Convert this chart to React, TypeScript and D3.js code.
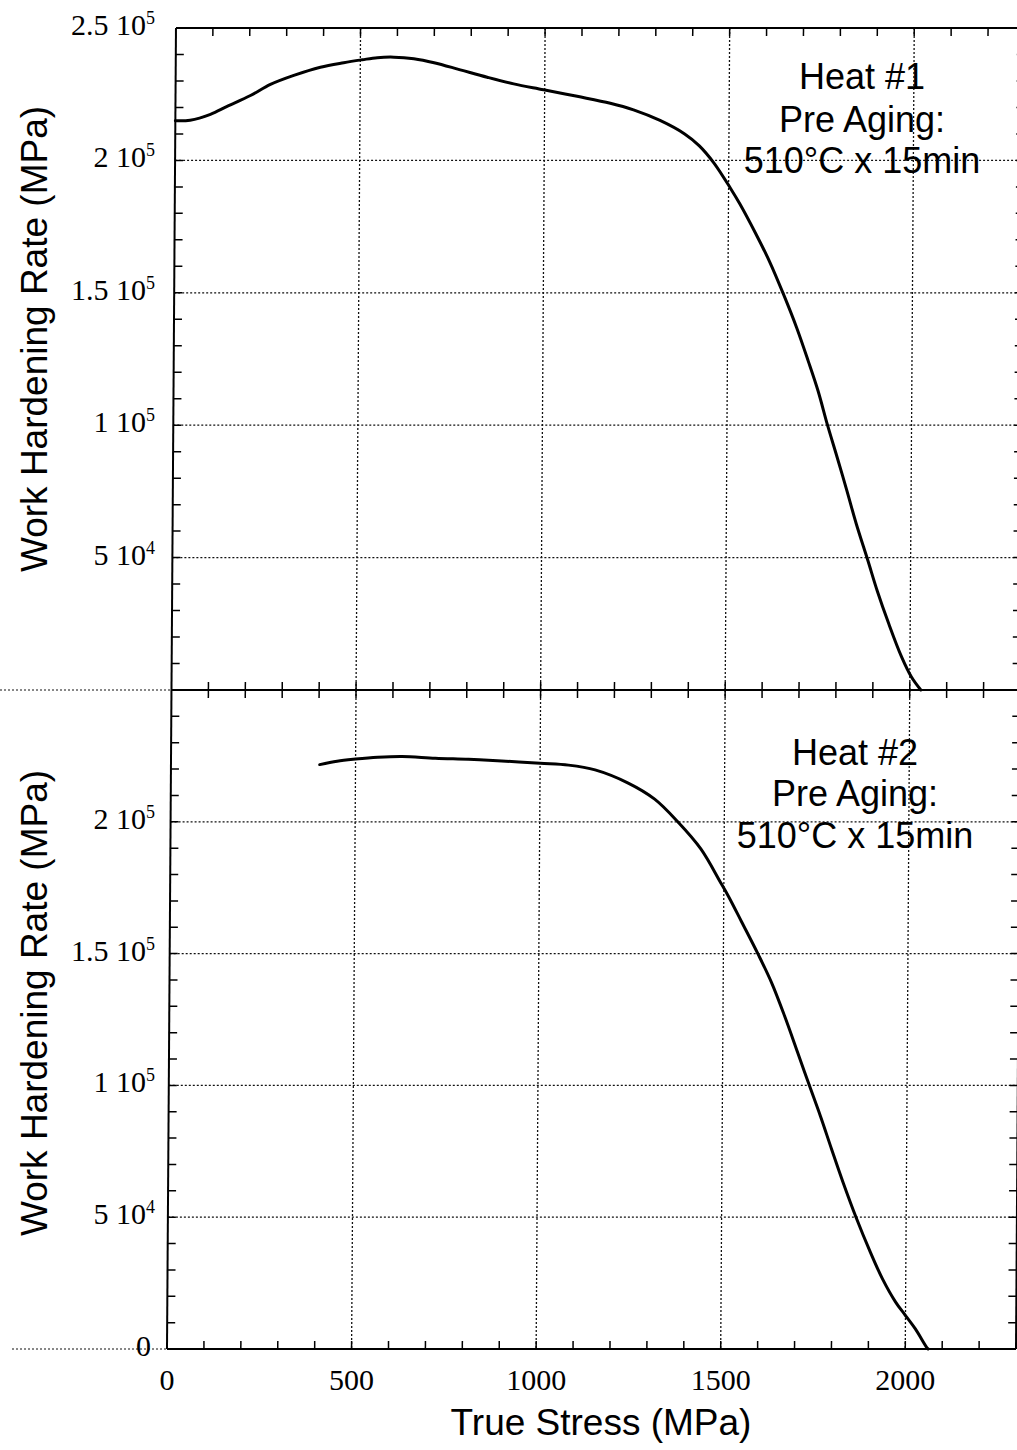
import React from "react";
import * as d3 from "d3";

// ---- data ----
const stressTicks = [0, 500, 1000, 1500, 2000];
const stressTickLabels = ["0", "500", "1000", "1500", "2000"];
const rateTicks = [0, 50000, 100000, 150000, 200000, 250000];
const rateTickBase = ["0", "5 10", "1 10", "1.5 10", "2 10", "2.5 10"];
const rateTickExp = ["", "4", "5", "5", "5", "5"];

const heat1Stress = [0, 40, 95, 140, 203, 257, 320, 392, 455, 505, 546, 591, 645, 700, 771, 844, 916, 997, 1088, 1178, 1241, 1313, 1380, 1420, 1460, 1505, 1531, 1576, 1612, 1652, 1687, 1719, 1746, 1772, 1799, 1826, 1852, 1884, 1910, 1942, 1977, 2004, 2030];
const heat1Rate = [215000, 215200, 217400, 220400, 224500, 228700, 232100, 235200, 236900, 238000, 238800, 239000, 238400, 236900, 234200, 231400, 228900, 226700, 224200, 221600, 219100, 215100, 210000, 205500, 199000, 189500, 183500, 171900, 161900, 149000, 136800, 124200, 113000, 100200, 87900, 75300, 62800, 49000, 37500, 25000, 12600, 5000, 0];

const heat2Stress = [403, 450, 500, 560, 626, 716, 806, 896, 1000, 1077, 1149, 1239, 1311, 1374, 1437, 1491, 1514, 1549, 1594, 1631, 1667, 1703, 1734, 1766, 1797, 1829, 1865, 1901, 1937, 1973, 2000, 2027, 2058, 2062];
const heat2Rate = [221700, 223000, 223800, 224500, 224800, 224100, 223700, 223100, 222200, 221500, 219700, 214700, 208600, 200000, 189700, 177000, 171400, 162000, 149800, 139000, 126300, 112500, 100500, 88300, 75700, 63000, 49700, 37600, 26600, 17800, 12700, 7600, 600, 0];

const panelTexts = [
  ["Heat #1", "Pre Aging:", "510\u00B0C x 15min"],
  ["Heat #2", "Pre Aging:", "510\u00B0C x 15min"],
];

const W = 1017;
const H = 1450;
const LEFT = 167;
const RIGHT = 1016;
const TOP = 28;
const MID = 690;
const BOTTOM = 1349;
const SKEW = -0.0068; // scan shear: verticals lean right toward the top

const SERIF = "'Liberation Serif', 'Times New Roman', serif";
const SANS = "'Liberation Sans', Arial, sans-serif";

export default function App() {
  const x = d3.scaleLinear().domain([0, 2300]).range([LEFT, RIGHT]);
  const yTop = d3.scaleLinear().domain([0, 250000]).range([MID, TOP]);
  const yBot = d3.scaleLinear().domain([0, 250000]).range([BOTTOM, MID]);

  const lineTop = d3
    .line<number>()
    .x((_, i) => x(heat1Stress[i]))
    .y((_, i) => yTop(heat1Rate[i]))
    .curve(d3.curveCatmullRom.alpha(0.5));
  const lineBot = d3
    .line<number>()
    .x((_, i) => x(heat2Stress[i]))
    .y((_, i) => yBot(heat2Rate[i]))
    .curve(d3.curveCatmullRom.alpha(0.5));

  const minorX = d3.range(100, 2300, 100);
  const minorY = d3.range(10000, 250000, 10000);
  const gridX = stressTicks.filter((v) => v > 0);
  const gridY = rateTicks.filter((v) => v > 0 && v < 250000);

  const panels = [
    { y: yTop, top: TOP, bottom: MID },
    { y: yBot, top: MID, bottom: BOTTOM },
  ];

  const dot = { stroke: "#111", strokeWidth: 1.3, strokeDasharray: "2,2", fill: "none" };

  return (
    <svg
      width={W}
      height={H}
      viewBox={`0 0 ${W} ${H}`}
      style={{ position: "absolute", left: 0, top: 0, background: "#fff" }}
    >
      <rect x={0} y={0} width={W} height={H} fill="#fff" />
      {/* stray dotted leaders at the left */}
      <line x1={0} x2={LEFT + 3} y1={MID} y2={MID} {...dot} strokeWidth={1} />
      <line x1={12} x2={LEFT} y1={BOTTOM} y2={BOTTOM} {...dot} strokeWidth={1} />

      <g transform={`matrix(1,0,${SKEW},1,${-SKEW * BOTTOM},0)`}>
        {panels.map((p, pi) => (
          <g key={pi}>
            {gridX.map((v) => (
              <line key={"gx" + v} x1={x(v)} x2={x(v)} y1={p.top} y2={p.bottom} {...dot} />
            ))}
            {gridY.map((v) => (
              <line key={"gy" + v} x1={LEFT} x2={RIGHT} y1={p.y(v)} y2={p.y(v)} {...dot} />
            ))}
            {minorY.map((v) => (
              <g key={"ty" + v}>
                <line x1={LEFT} x2={LEFT + 8} y1={p.y(v)} y2={p.y(v)} stroke="#000" strokeWidth={1.5} />
                <line x1={RIGHT - 8} x2={RIGHT} y1={p.y(v)} y2={p.y(v)} stroke="#000" strokeWidth={1.5} />
              </g>
            ))}
          </g>
        ))}
        {minorX.map((v) => (
          <g key={"tx" + v}>
            <line x1={x(v)} x2={x(v)} y1={TOP} y2={TOP + 8} stroke="#000" strokeWidth={1.5} />
            <line x1={x(v)} x2={x(v)} y1={MID - 8} y2={MID + 8} stroke="#000" strokeWidth={1.5} />
            <line x1={x(v)} x2={x(v)} y1={BOTTOM - 8} y2={BOTTOM} stroke="#000" strokeWidth={1.5} />
          </g>
        ))}
        {/* frame */}
        <line x1={LEFT} x2={RIGHT} y1={TOP} y2={TOP} stroke="#000" strokeWidth={2} />
        <line x1={LEFT} x2={RIGHT} y1={MID} y2={MID} stroke="#000" strokeWidth={2} />
        <line x1={LEFT} x2={RIGHT} y1={BOTTOM} y2={BOTTOM} stroke="#000" strokeWidth={2} />
        <line x1={LEFT} x2={LEFT} y1={TOP} y2={BOTTOM} stroke="#000" strokeWidth={2} />
        <line x1={RIGHT} x2={RIGHT} y1={TOP} y2={BOTTOM} stroke="#000" strokeWidth={2} />

        {/* curves */}
        <path d={lineTop(heat1Stress) || ""} fill="none" stroke="#000" strokeWidth={3} strokeLinejoin="round" strokeLinecap="round" />
        <path d={lineBot(heat2Stress) || ""} fill="none" stroke="#000" strokeWidth={3} strokeLinejoin="round" strokeLinecap="round" />
      </g>

      {/* y tick labels */}
      {rateTicks.map((v, i) =>
        v === 0 ? null : (
          <text key={"lt" + v} x={155} y={yTop(v) + 7} textAnchor="end" fontFamily={SERIF} fontSize={30} fill="#000">
            {rateTickBase[i]}
            <tspan dy={-11} fontSize={18}>{rateTickExp[i]}</tspan>
          </text>
        )
      )}
      {rateTicks.map((v, i) =>
        v === 250000 ? null : (
          <text key={"lb" + v} x={v === 0 ? 151 : 155} y={yBot(v) + 7} textAnchor="end" fontFamily={SERIF} fontSize={30} fill="#000">
            {rateTickBase[i]}
            {rateTickExp[i] ? <tspan dy={-11} fontSize={18}>{rateTickExp[i]}</tspan> : null}
          </text>
        )
      )}

      {/* x tick labels */}
      {stressTicks.map((v, i) => (
        <text key={"xl" + v} x={x(v)} y={1390} textAnchor="middle" fontFamily={SERIF} fontSize={30} fill="#000">
          {stressTickLabels[i]}
        </text>
      ))}

      {/* axis titles */}
      <text transform="translate(47,339) rotate(-90)" textAnchor="middle" fontFamily={SANS} fontSize={37} fill="#000">
        Work Hardening Rate (MPa)
      </text>
      <text transform="translate(47,1003) rotate(-90)" textAnchor="middle" fontFamily={SANS} fontSize={37} fill="#000">
        Work Hardening Rate (MPa)
      </text>
      <text x={601} y={1435} textAnchor="middle" fontFamily={SANS} fontSize={37} fill="#000">
        True Stress (MPa)
      </text>

      {/* panel annotations */}
      {panelTexts[0].map((t, i) => (
        <text key={"a1" + i} x={862} y={[89, 132, 173][i]} textAnchor="middle" fontFamily={SANS} fontSize={36} fill="#000">
          {t}
        </text>
      ))}
      {panelTexts[1].map((t, i) => (
        <text key={"a2" + i} x={855} y={[765, 806, 848][i]} textAnchor="middle" fontFamily={SANS} fontSize={36} fill="#000">
          {t}
        </text>
      ))}
    </svg>
  );
}
